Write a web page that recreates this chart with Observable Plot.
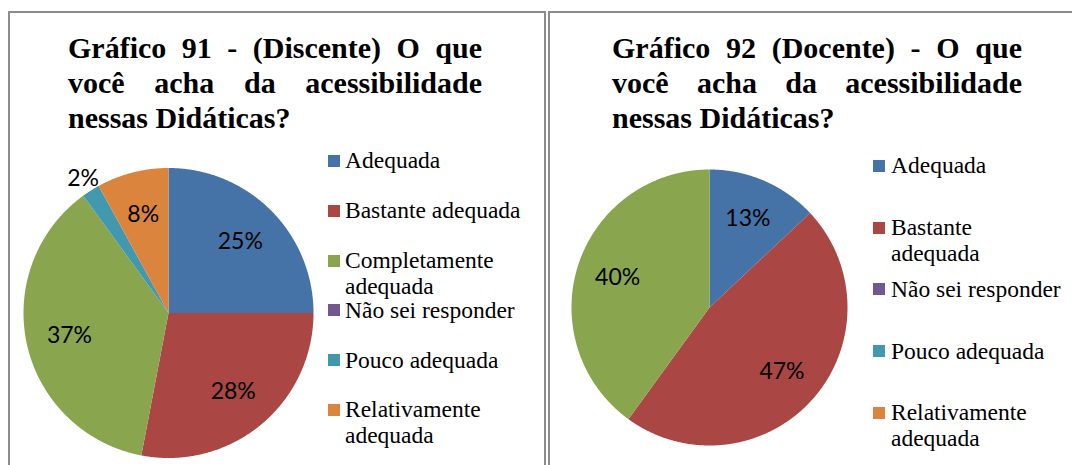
<!DOCTYPE html>
<html lang="pt">
<head>
<meta charset="utf-8">
<script src="https://cdn.jsdelivr.net/npm/d3@7"></script>
<script src="https://cdn.jsdelivr.net/npm/@observablehq/plot@0.6"></script>
<style>
  html, body { margin: 0; padding: 0; background: #fff; }
  body { position: relative; width: 1072px; height: 465px; overflow: hidden; }
  .panel { position: absolute; box-sizing: border-box; border: 2px solid #8c8c8c; border-bottom: none; height: 480px; }
  .title {
    position: absolute; font-family: "Liberation Serif", Tinos, "DejaVu Serif", serif;
    font-weight: bold; font-size: 30px; line-height: 35px; color: #000;
    text-align: justify; text-align-last: left;
  }
  .pie { position: absolute; }
  .legend { position: absolute; font-family: "Liberation Serif", Tinos, "DejaVu Serif", serif; font-size: 23.5px; color: #000; }
  .legend .row { position: absolute; left: 0; }
  .legend .sw { position: absolute; left: 0; top: 7.6px; width: 12px; height: 12px; }
  .legend .tx { position: absolute; top: 0; line-height: 26px; }
</style>
</head>
<body>
<div class="panel" style="left:8px;top:11px;width:538px;"></div>
<div class="panel" style="left:548px;top:11px;width:560px;"></div>
<div id="t1" class="title" style="left:68px;top:30px;width:414px;"></div>
<div id="t2" class="title" style="left:612px;top:30px;width:410px;"></div>
<div id="pie1" class="pie" style="left:10px;top:140px;"></div>
<div id="pie2" class="pie" style="left:551px;top:140px;"></div>
<div id="leg1" class="legend" style="left:328px;top:147.4px;"></div>
<div id="leg2" class="legend" style="left:873px;top:152.4px;"></div>
<script>
// Answer categories and their slice colours
const categories = ["Adequada", "Bastante adequada", "Completamente adequada", "Não sei responder", "Pouco adequada", "Relativamente adequada"];
const palette = ["#4572A7", "#AA4643", "#89A54E", "#71588F", "#4198AF", "#DB843D"];

// Percentages per group (same order as categories)
const discente = [25, 28, 37, 0, 2, 8];
const docente = [13, 47, 40, 0, 0, 0];

// Chart titles
const title1 = "Gráfico 91 - (Discente) O que você acha da acessibilidade nessas Didáticas?";
const title2 = "Gráfico 92 (Docente) - O que você acha da acessibilidade nessas Didáticas?";

// Legend entries shown next to each pie
const legend1 = ["Adequada", "Bastante adequada", "Completamente adequada", "Não sei responder", "Pouco adequada", "Relativamente adequada"];
const legend2 = ["Adequada", "Bastante adequada", "Não sei responder", "Pouco adequada", "Relativamente adequada"];

document.getElementById("t1").textContent = title1;
document.getElementById("t2").textContent = title2;

// Builds one pie: slices are closed polygons in a unit circle (x = sin, y = cos,
// so angles run clockwise from 12 o'clock), drawn with filled Plot.line marks.
function pieChart(values, {cx, cy, r, left, top}) {
  const rows = categories.map((category, i) => ({category, value: values[i]}));
  const arcs = d3.pie().sort(null).value(d => d.value)(rows).filter(a => a.data.value > 0);
  const points = [];
  const labels = [];
  for (const a of arcs) {
    const n = Math.max(2, Math.ceil((a.endAngle - a.startAngle) / 0.005));
    points.push({category: a.data.category, x: 0, y: 0});
    for (let k = 0; k <= n; k++) {
      const t = a.startAngle + (a.endAngle - a.startAngle) * k / n;
      points.push({category: a.data.category, x: Math.sin(t), y: Math.cos(t)});
    }
    const mid = (a.startAngle + a.endAngle) / 2;
    const f = a.data.value < 5 ? 1.1 : 0.7;
    labels.push({x: f * Math.sin(mid), y: f * Math.cos(mid), text: a.data.value + "%"});
  }
  const mL = cx - r - left, mT = cy - r - top;
  return Plot.plot({
    width: mL * 2 + 2 * r,
    height: mT + 2 * r + 12,
    marginLeft: mL, marginRight: mL, marginTop: mT, marginBottom: 12,
    x: {domain: [-1, 1], axis: null},
    y: {domain: [-1, 1], axis: null},
    color: {domain: categories, range: palette},
    style: {background: "transparent", overflow: "visible", fontFamily: "Lato, 'Open Sans', sans-serif"},
    marks: [
      Plot.line(points, {x: "x", y: "y", z: "category", fill: "category", stroke: "none"}),
      Plot.text(labels, {x: "x", y: "y", text: "text", fontSize: 23, fill: "#000"})
    ]
  });
}

document.getElementById("pie1").append(pieChart(discente, {cx: 168, cy: 312.5, r: 145, left: 10, top: 140}));
document.getElementById("pie2").append(pieChart(docente, {cx: 709, cy: 307, r: 138, left: 551, top: 140}));

// HTML legends: fixed-height rows, long names wrap inside the text width
function legend(el, items, {step, textLeft, textWidth}) {
  items.forEach((name, i) => {
    const row = document.createElement("div");
    row.className = "row";
    row.style.top = (i * step) + "px";
    const sw = document.createElement("div");
    sw.className = "sw";
    sw.style.background = palette[categories.indexOf(name)];
    const tx = document.createElement("div");
    tx.className = "tx";
    tx.style.left = textLeft + "px";
    tx.style.width = textWidth + "px";
    tx.textContent = name;
    row.append(sw, tx);
    el.append(row);
  });
}
legend(document.getElementById("leg1"), legend1, {step: 49.8, textLeft: 17, textWidth: 190});
legend(document.getElementById("leg2"), legend2, {step: 61.75, textLeft: 18, textWidth: 173});
</script>
</body>
</html>
